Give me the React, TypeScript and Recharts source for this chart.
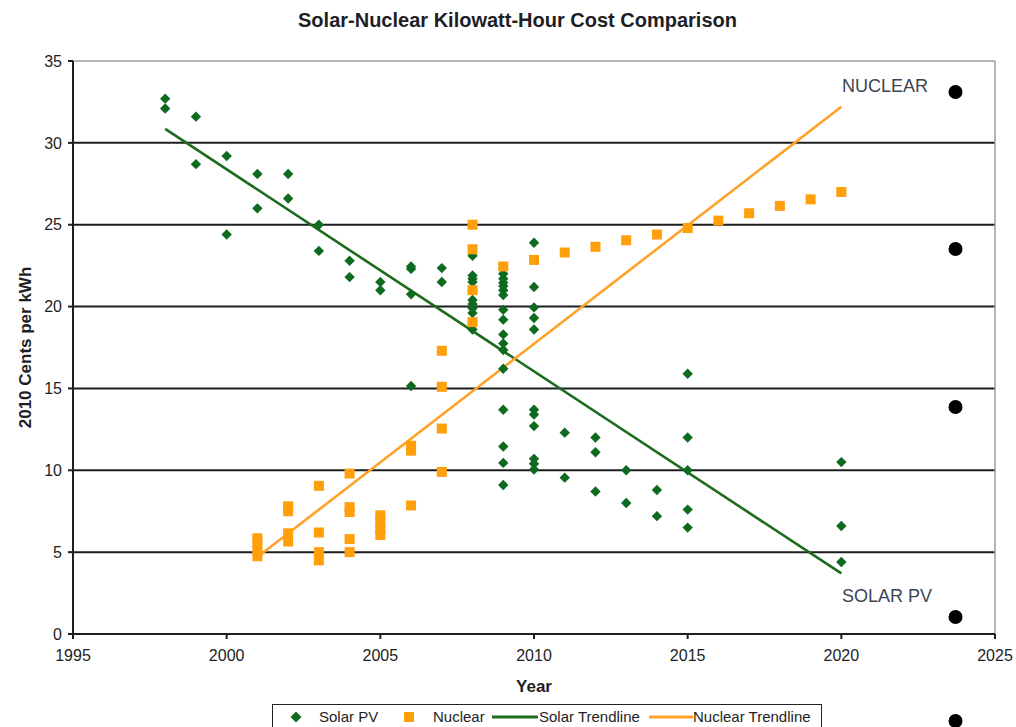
import React from 'react';
import {
  ComposedChart,
  Scatter,
  Line,
  XAxis,
  YAxis,
  CartesianGrid,
  ReferenceLine,
  Legend,
} from 'recharts';

// ---------- data ----------
const xTicks = [1995, 2000, 2005, 2010, 2015, 2020, 2025];
const yTicks = [0, 5, 10, 15, 20, 25, 30, 35];
const gridValues = [5, 10, 15, 20, 25, 30];

const solarYears = [
  1998, 1998, 1999, 1999, 2000, 2000, 2001, 2001, 2002, 2002, 2003, 2003, 2004, 2004, 2005, 2005,
  2006, 2006, 2006, 2006, 2007, 2007,
  2008, 2008, 2008, 2008, 2008, 2008, 2008, 2008, 2008, 2008, 2008,
  2009, 2009, 2009, 2009, 2009, 2009, 2009, 2009, 2009, 2009, 2009, 2009, 2009, 2009, 2009, 2009,
  2010, 2010, 2010, 2010, 2010, 2010, 2010, 2010, 2010, 2010, 2010,
  2011, 2011, 2012, 2012, 2012, 2013, 2013, 2014, 2014,
  2015, 2015, 2015, 2015, 2015, 2020, 2020, 2020,
];
const solarCents = [
  32.7, 32.1, 31.6, 28.7, 29.2, 24.4, 28.1, 26.0, 28.1, 26.6, 25.0, 23.4, 22.8, 21.8, 21.5, 21.0,
  22.45, 22.3, 20.75, 15.15, 22.35, 21.5,
  23.1, 21.9, 21.7, 21.5, 21.0, 20.4, 20.15, 19.9, 19.6, 19.0, 18.6,
  22.0, 21.7, 21.45, 21.25, 21.0, 20.7, 19.8, 19.2, 18.3, 17.75, 17.35, 16.2, 13.7, 11.45, 10.45, 9.1,
  23.9, 21.2, 19.95, 19.3, 18.6, 13.7, 13.4, 12.7, 10.7, 10.4, 10.05,
  12.3, 9.55, 12.0, 11.1, 8.7, 10.0, 8.0, 8.8, 7.2,
  15.9, 12.0, 10.0, 7.6, 6.5, 10.5, 6.6, 4.4,
];

const nuclearYears = [
  2001, 2001, 2001, 2001, 2002, 2002, 2002, 2002, 2003, 2003, 2003, 2003,
  2004, 2004, 2004, 2004, 2004, 2005, 2005, 2005, 2005, 2006, 2006, 2006,
  2007, 2007, 2007, 2007, 2008, 2008, 2008, 2008,
  2009, 2010, 2011, 2012, 2013, 2014, 2015, 2016, 2017, 2018, 2019, 2020,
];
const nuclearCents = [
  5.85, 5.5, 5.1, 4.75, 7.8, 7.5, 6.15, 5.65, 9.05, 6.2, 5.0, 4.5,
  9.8, 7.75, 7.45, 5.8, 5.0, 7.25, 6.8, 6.4, 6.05, 11.5, 11.2, 7.85,
  17.3, 15.1, 12.55, 9.9, 25.0, 23.5, 21.0, 19.05,
  22.45, 22.85, 23.3, 23.65, 24.05, 24.4, 24.8, 25.25, 25.7, 26.15, 26.55, 27.0,
];

const solarTrendYears = [1998, 2020];
const solarTrendCents = [30.85, 3.7];
const nuclearTrendYears = [2001, 2020];
const nuclearTrendCents = [4.7, 32.2];

const solarData = solarYears.map((x, i) => ({ x, y: solarCents[i] }));
const nuclearData = nuclearYears.map((x, i) => ({ x, y: nuclearCents[i] }));
const solarTrend = solarTrendYears.map((x, i) => ({ x, y: solarTrendCents[i] }));
const nuclearTrend = nuclearTrendYears.map((x, i) => ({ x, y: nuclearTrendCents[i] }));

// ---------- styles ----------
const W = 1016;
const H = 727;
const FONT = '"Liberation Sans", Arial, sans-serif';
const GREEN = '#0e6a1e';
const GREEN_LINE = '#1d6b1d';
const ORANGE = '#ff9f0a';
const ORANGE_LINE = '#ffa22a';
const INK = '#1e1e24';

const Diamond = (props: any) => {
  const { cx, cy } = props;
  if (cx == null || cy == null) return null;
  const r = 5.2;
  return (
    <polygon
      points={`${cx},${cy - r} ${cx + r},${cy} ${cx},${cy + r} ${cx - r},${cy}`}
      fill={GREEN}
    />
  );
};

const Square = (props: any) => {
  const { cx, cy } = props;
  if (cx == null || cy == null) return null;
  const s = 10;
  return <rect x={cx - s / 2} y={cy - s / 2} width={s} height={s} fill={ORANGE} />;
};

const renderLegend = () => (
  <div
    style={{
      width: 550,
      height: 30,
      border: '1.5px solid #222',
      boxSizing: 'border-box',
      background: '#fff',
      position: 'relative',
    }}
  >
    <svg width={548} height={28} style={{ position: 'absolute', left: 0, top: 0 }}>
      <polygon points="23,6.5 28.5,12 23,17.5 17.5,12" fill={GREEN} />
      <text x={46} y={17} fontSize={15} fontFamily={FONT} fill={INK}>Solar PV</text>
      <rect x={131} y={7} width={10} height={10} fill={ORANGE} />
      <text x={160} y={17} fontSize={15} fontFamily={FONT} fill={INK}>Nuclear</text>
      <line x1={219} y1={12} x2={265} y2={12} stroke={GREEN_LINE} strokeWidth={3} />
      <text x={266} y={17} fontSize={15} fontFamily={FONT} fill={INK}>Solar Trendline</text>
      <line x1={376} y1={12} x2={420} y2={12} stroke={ORANGE_LINE} strokeWidth={3} />
      <text x={420} y={17} fontSize={15} fontFamily={FONT} fill={INK}>Nuclear Trendline</text>
    </svg>
  </div>
);

const dotYs = [92, 249, 407, 617, 721];

export default function App() {
  return (
    <div
      style={{
        position: 'absolute',
        left: 0,
        top: 0,
        width: W,
        height: H,
        background: '#fff',
        fontFamily: FONT,
        overflow: 'hidden',
      }}
    >
      <ComposedChart width={W} height={H} margin={{ top: 61, right: 21, bottom: 23, left: 0 }}>
        <CartesianGrid
          vertical={false}
          horizontalValues={gridValues}
          stroke="#1e1e1e"
          strokeWidth={2}
        />
        <ReferenceLine y={35} stroke="#9c9c9c" strokeWidth={1.5} />
        <ReferenceLine x={2025} stroke="#9c9c9c" strokeWidth={1.5} />
        <XAxis
          type="number"
          dataKey="x"
          domain={[1995, 2025]}
          ticks={xTicks}
          interval={0}
          height={70}
          tickSize={5}
          tickMargin={11}
          axisLine={{ stroke: '#1e1e1e', strokeWidth: 2 }}
          tickLine={{ stroke: '#1e1e1e', strokeWidth: 2 }}
          tick={{ fill: INK, fontSize: 16, fontFamily: FONT }}
          label={{
            value: 'Year',
            position: 'insideBottom',
            offset: 12,
            style: { fontWeight: 700, fontSize: 17, fill: INK, fontFamily: FONT },
          }}
        />
        <YAxis
          type="number"
          dataKey="y"
          domain={[0, 35]}
          ticks={yTicks}
          interval={0}
          width={73}
          tickSize={5}
          tickMargin={6}
          axisLine={{ stroke: '#1e1e1e', strokeWidth: 2 }}
          tickLine={{ stroke: '#1e1e1e', strokeWidth: 2 }}
          tick={{ fill: INK, fontSize: 16, fontFamily: FONT }}
          label={{
            value: '2010 Cents per kWh',
            angle: -90,
            position: 'insideLeft',
            offset: 25,
            style: { textAnchor: 'middle', fontWeight: 700, fontSize: 17, fill: INK, fontFamily: FONT },
          }}
        />
        <Line
          data={solarTrend}
          dataKey="y"
          stroke={GREEN_LINE}
          strokeWidth={2.6}
          dot={false}
          activeDot={false}
          isAnimationActive={false}
          name="Solar Trendline"
        />
        <Line
          data={nuclearTrend}
          dataKey="y"
          stroke={ORANGE_LINE}
          strokeWidth={2.6}
          dot={false}
          activeDot={false}
          isAnimationActive={false}
          name="Nuclear Trendline"
        />
        <Scatter data={solarData} shape={Diamond} isAnimationActive={false} name="Solar PV" />
        <Scatter data={nuclearData} shape={Square} isAnimationActive={false} name="Nuclear" />
        <Legend
          layout="horizontal"
          align="center"
          verticalAlign="middle"
          content={renderLegend}
          wrapperStyle={{ left: 272, top: 704, width: 550, height: 30 }}
        />
      </ComposedChart>
      <svg
        width={W}
        height={H}
        style={{ position: 'absolute', left: 0, top: 0, pointerEvents: 'none' }}
      >
        <text
          x={517.5}
          y={27}
          textAnchor="middle"
          fontSize={20}
          fontWeight={700}
          fontFamily={FONT}
          fill={INK}
        >
          Solar-Nuclear Kilowatt-Hour Cost Comparison
        </text>
        <text x={842} y={92} fontSize={18} fontFamily={FONT} fill="#3b4556">NUCLEAR</text>
        <text x={842} y={602} fontSize={18} fontFamily={FONT} fill="#3b4556">SOLAR PV</text>
        {dotYs.map((y) => (
          <circle key={y} cx={955.5} cy={y} r={7} fill="#000" />
        ))}
      </svg>
    </div>
  );
}
